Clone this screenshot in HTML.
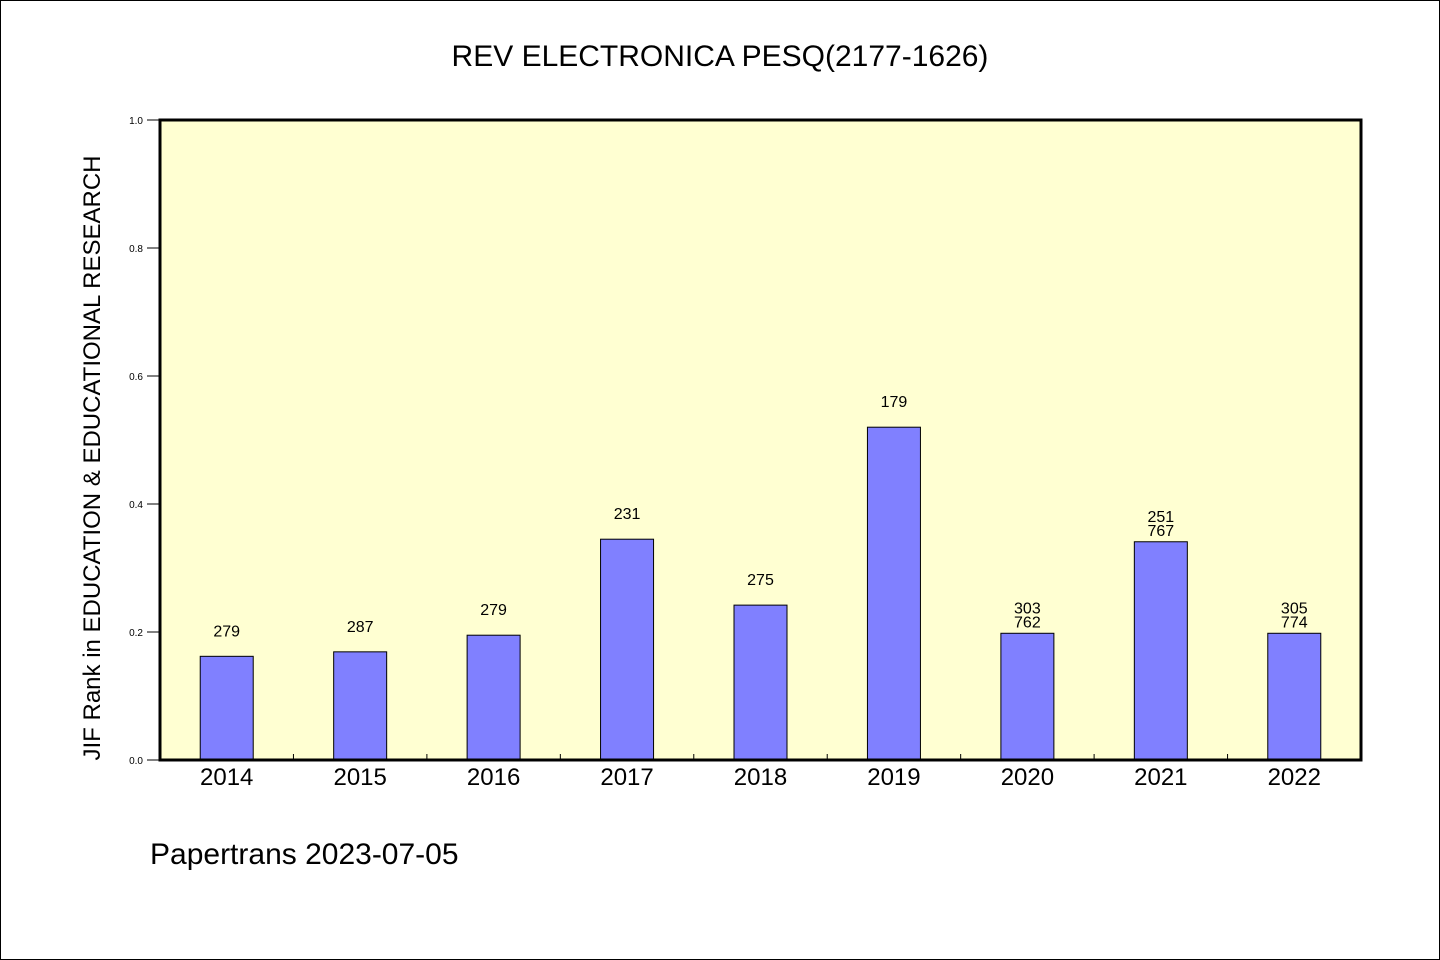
<!DOCTYPE html>
<html><head><meta charset="utf-8"><style>
body{margin:0;background:#fff}
svg{display:block;font-family:"WenQuanYi Zen Hei","Liberation Sans",sans-serif}
</style></head><body>
<svg id="c" width="1440" height="960" xmlns="http://www.w3.org/2000/svg">
<rect x="0.5" y="0.5" width="1439" height="959" fill="#fff" stroke="#000"/>
<text x="720" y="66" text-anchor="middle" font-size="30">REV ELECTRONICA PESQ(2177-1626)</text>
<rect x="160" y="120" width="1201" height="640" fill="#ffffd2"/>
<g id="marks"></g>
<rect x="160" y="120" width="1201" height="640" fill="none" stroke="#000" stroke-width="3"/>
<text transform="translate(100,458) rotate(-90)" text-anchor="middle" font-size="24">JIF Rank in EDUCATION &amp; EDUCATIONAL RESEARCH</text>
<text x="150" y="864" font-size="30">Papertrans 2023-07-05</text>
</svg>
<script>
const categories=["2014","2015","2016","2017","2018","2019","2020","2021","2022"];
const values=[0.162,0.169,0.195,0.345,0.242,0.520,0.198,0.341,0.198];
const labelsTop=["279","287","279","231","275","179","303","251","305"];
const labelsBottom=["","","","","","","762","767","774"];
const yTicks=[0,0.2,0.4,0.6,0.8,1.0];
const L=160,R=1361,T=120,B=760;
const ns="http://www.w3.org/2000/svg";
const g=document.getElementById('marks');
const bw=(R-L)/categories.length;
const y=v=>B-v*(B-T);
const x=i=>L+bw*(i+0.5);
function mk(t,a){const e=document.createElementNS(ns,t);for(const k in a)e.setAttribute(k,a[k]);g.appendChild(e);return e;}
yTicks.forEach(v=>{
  const l=mk('line',{x1:147,x2:160,y1:y(v),y2:y(v),stroke:'#000'});
  
  
  const t=mk('text',{x:143,y:y(v)+4,'text-anchor':'end','font-size':10});
  t.textContent=v.toFixed(1);
  
  
});
for(let i=1;i<categories.length;i++){
  const l=mk('line',{x1:L+bw*i,x2:L+bw*i,y1:B,y2:B-6,stroke:'#000'});
  
  
}
categories.forEach((c,i)=>{
  const cx=x(i),top=y(values[i]);
  const r=mk('rect',{x:cx-26.5,y:top,width:53,height:B-top,fill:'#8080ff',stroke:'#000','stroke-width':1});
  
  
  const t=mk('text',{x:cx,y:B+25,'text-anchor':'middle','font-size':24});
  t.textContent=c;
  
  
  if(labelsBottom[i]){
    const a=mk('text',{x:cx,y:top-20,'text-anchor':'middle','font-size':16});
    a.textContent=labelsTop[i];
    
    
    const b=mk('text',{x:cx,y:top-6,'text-anchor':'middle','font-size':16});
    b.textContent=labelsBottom[i];
    
    
  }else{
    const a=mk('text',{x:cx,y:top-20,'text-anchor':'middle','font-size':16});
    a.textContent=labelsTop[i];
    
    
  }
});
</script>
</body></html>
